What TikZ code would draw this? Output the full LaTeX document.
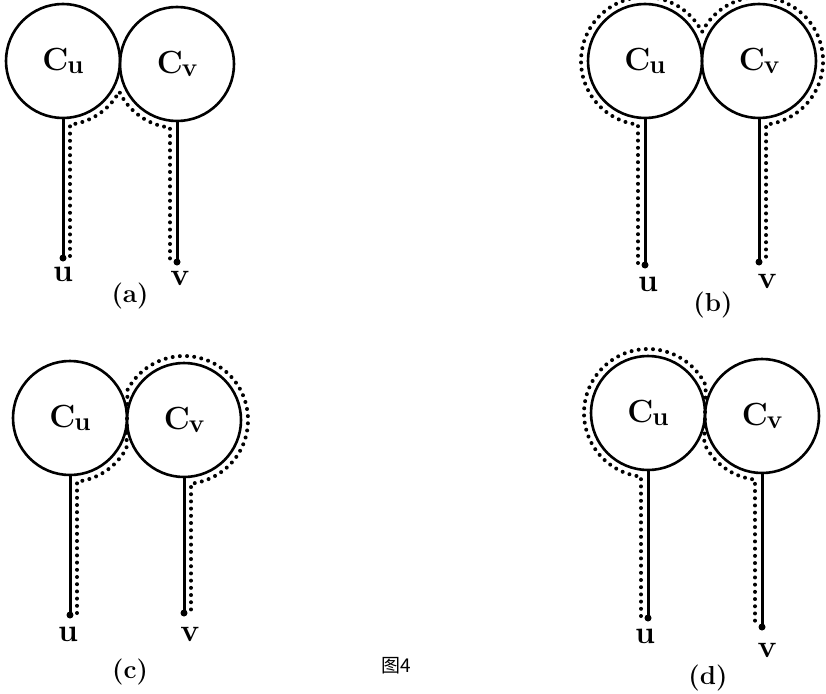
\documentclass[tikz,border=0pt]{standalone}
\usepackage{fontspec}
\newfontfamily\cjk{Noto Sans CJK SC}
\usetikzlibrary{calc}
\newcommand{\cname}[1]{{\fontsize{32}{34}\selectfont\bfseries C}\kern-1pt\raisebox{-3pt}{\fontsize{26}{28}\selectfont\bfseries #1}}
\begin{document}
\begin{tikzpicture}[x=1pt,y=-1pt,
  ring/.style={circle,draw,line width=2.6pt,minimum size=114pt,inner sep=0pt},
  stem/.style={line width=3pt},
  dots/.style={line width=4pt,dash pattern=on 0pt off 7.2pt,line cap=round},
  enddot/.style={circle,fill,inner sep=0pt,minimum size=7pt},
  lbl/.style={font=\fontsize{32}{34}\selectfont\bfseries},
  panelcap/.style={font=\fontsize{26}{28}\selectfont\bfseries}]
\useasboundingbox (0,0) rectangle (826,693);
% ---------- (a)
\coordinate (acuc) at (63,61); \coordinate (acvc) at (177,64);
\node[ring] (acu) at (acuc) {\cname{u}};
\node[ring] (acv) at (acvc) {\cname{v}};
\node[enddot] (au) at (63,258) {};
\node[enddot] (av) at (177,262) {};
\draw[stem] (acu.south) -- (au.center);
\draw[stem] (acv.south) -- (av.center);
\node[lbl] (alu) at (63,274) {u};
\node[lbl] (alv) at (180,278) {v};
\node[panelcap] (acap) at (130,296) {(a)};
\draw[dots] (70,256) -- ($(acuc)+(83.7:64)$) arc[start angle=83.7,end angle=28.5,radius=64]
  arc[start angle=154.5,end angle=96.3,radius=64] -- (170,260);
% ---------- (b)
\coordinate (bcuc) at (645,61); \coordinate (bcvc) at (759,61);
\node[ring] (bcu) at (bcuc) {\cname{u}};
\node[ring] (bcv) at (bcvc) {\cname{v}};
\node[enddot] (bu) at (645,265) {};
\node[enddot] (bv) at (759,262) {};
\draw[stem] (bcu.south) -- (bu.center);
\draw[stem] (bcv.south) -- (bv.center);
\node[lbl] (blu) at (648,284) {u};
\node[lbl] (blv) at (767,281) {v};
\node[panelcap] (bcap) at (713,305) {(b)};
\draw[dots] (638,263) -- ($(bcuc)+(96.3:64)$) arc[start angle=96.3,end angle=333,radius=64]
  arc[start angle=207,end angle=443.7,radius=64] -- (766,260);
% ---------- (c)
\coordinate (ccuc) at (70,418); \coordinate (ccvc) at (184,420);
\node[ring] (ccu) at (ccuc) {\cname{u}};
\node[ring] (ccv) at (ccvc) {\cname{v}};
\node[enddot] (cu) at (70,615) {};
\node[enddot] (cv) at (184,613) {};
\draw[stem] (ccu.south) -- (cu.center);
\draw[stem] (ccv.south) -- (cv.center);
\node[lbl] (clu) at (68,634) {u};
\node[lbl] (clv) at (190,634) {v};
\node[panelcap] (ccap) at (130,672) {(c)};
\draw[dots] (77,613) -- ($(ccuc)+(83.7:64)$) arc[start angle=83.7,end angle=28,radius=64]
  -- ($(ccvc)+(208:64)$) arc[start angle=208,end angle=443.7,radius=64] -- (191,611);
% ---------- (d)
\coordinate (dcuc) at (648,413); \coordinate (dcvc) at (762,416);
\node[ring] (dcu) at (dcuc) {\cname{u}};
\node[ring] (dcv) at (dcvc) {\cname{v}};
\node[enddot] (du) at (648,618) {};
\node[enddot] (dv) at (762,627) {};
\draw[stem] (dcu.south) -- (du.center);
\draw[stem] (dcv.south) -- (dv.center);
\node[lbl] (dlu) at (645,636) {u};
\node[lbl] (dlv) at (767,650) {v};
\node[panelcap] (dcap) at (708,678) {(d)};
\draw[dots] (641,616) -- ($(dcuc)+(96.3:64)$) arc[start angle=96.3,end angle=334.5,radius=64]
  -- ($(dcvc)+(154.5:64)$) arc[start angle=154.5,end angle=96.3,radius=64] -- (755,625);
% ---------- caption
\node[font=\fontsize{19}{21}\selectfont] (fig) at (396,666) {{\cjk 图4}};
\end{tikzpicture}
\end{document}
